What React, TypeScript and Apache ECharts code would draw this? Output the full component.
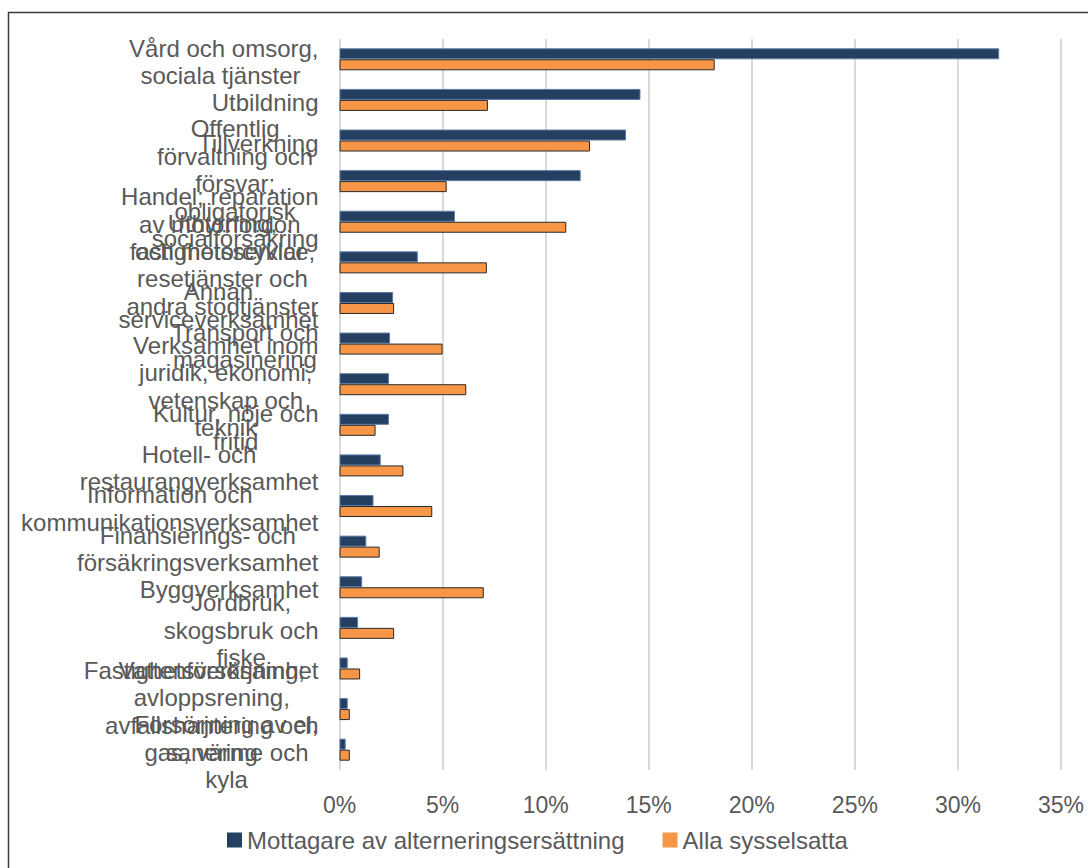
import React, { useEffect, useRef } from "react";
import * as echarts from "echarts";

const categories = [
  "Vård och omsorg,\nsociala tjänster ",
  "Utbildning",
  "Tillverkning",
  "Offentlig\nförvaltning och\nförsvar;\nobligatorisk\nsocialförsäkring",
  "Handel; reparation\nav motorfordon\noch motorcyklar",
  "Uthyrning,\nfastighetsservice,\nresetjänster och\nandra stödtjänster",
  "Annan\nserviceverksamhet",
  "Transport och\nmagasinering",
  "Verksamhet inom\njuridik, ekonomi,\nvetenskap och\nteknik",
  "Kultur, nöje och\nfritid",
  "Hotell- och\nrestaurangverksamhet",
  "Information och\nkommunikationsverksamhet",
  "Finansierings- och\nförsäkringsverksamhet",
  "Byggverksamhet",
  "Jordbruk,\nskogsbruk och\nfiske",
  "Fastighetsverksamhet",
  "Vattenförsörjning;\navloppsrening,\navfallshantering och\nsanering",
  "Försörjning av el,\ngas, värme och\nkyla",
];

const recipients = [32.0, 14.6, 13.9, 11.7, 5.6, 3.8, 2.6, 2.45, 2.4, 2.4, 2.0, 1.65, 1.3, 1.1, 0.9, 0.4, 0.4, 0.3];
const allEmployed = [18.2, 7.2, 12.15, 5.2, 11.0, 7.15, 2.65, 5.0, 6.15, 1.75, 3.1, 4.5, 1.95, 7.0, 2.65, 1.0, 0.5, 0.5];

const seriesNames = ["Mottagare av alterneringsersättning", "Alla sysselsatta"];

const SANS = "'Liberation Sans', Arial, sans-serif";

export default function App() {
  const ref = useRef<HTMLDivElement>(null);
  useEffect(() => {
    if (!ref.current) return;
    const chart = echarts.init(ref.current, null, { renderer: "svg" });
    chart.setOption({
      animation: false,
      backgroundColor: "#ffffff",
      graphic: [
        {
          type: "rect",
          shape: { x: 8.5, y: 12.5, width: 1200, height: 1000 },
          style: { fill: "none", stroke: "#3a3a3a", lineWidth: 1.5 },
          silent: true,
          z: 100,
        },
      ],
      grid: { left: 339.5, right: 27, top: 39, bottom: 98, containLabel: false },
      legend: {
        left: 227,
        top: 828,
        padding: 0,
        itemWidth: 15,
        itemHeight: 15,
        itemGap: 38,
        icon: "rect",
        itemStyle: { borderWidth: 0 },
        textStyle: { fontFamily: SANS, fontSize: 24, color: "#595959" },
        data: seriesNames,
      },
      xAxis: {
        type: "value",
        min: 0,
        max: 35,
        interval: 5,
        axisLine: { show: false },
        axisTick: { show: false },
        axisLabel: {
          formatter: "{value}%",
          fontFamily: SANS,
          fontSize: 23,
          color: "#595959",
          margin: 23,
        },
        splitLine: { show: true, lineStyle: { color: "#d9d9d9", width: 2 } },
      },
      yAxis: {
        type: "category",
        inverse: true,
        data: categories,
        axisLine: { show: false },
        axisTick: { show: false },
        axisLabel: {
          interval: 0,
          margin: 21,
          align: "right",
          padding: [5, 0, 0, 0],
          formatter: (v: string) =>
            v
              .split("\n")
              .map((l) => "{c|" + l + "}")
              .join("\n"),
          rich: {
            c: {
              align: "center",
              fontFamily: SANS,
              fontSize: 24,
              lineHeight: 27.5,
              color: "#595959",
            },
          },
        },
      },
      series: [
        {
          name: seriesNames[0],
          type: "bar",
          data: recipients,
          barWidth: 11,
          barGap: "0%",
          itemStyle: { color: "#243f60", borderColor: "#5b7ba6", borderWidth: 1 },
        },
        {
          name: seriesNames[1],
          type: "bar",
          data: allEmployed,
          barWidth: 11,
          barGap: "0%",
          itemStyle: { color: "#f79646", borderColor: "#2a2a2a", borderWidth: 1 },
        },
      ],
    });
    return () => chart.dispose();
  }, []);
  return (
    <div
      ref={ref}
      style={{ position: "fixed", left: 0, top: 0, width: 1088, height: 868, background: "#fff" }}
    />
  );
}
